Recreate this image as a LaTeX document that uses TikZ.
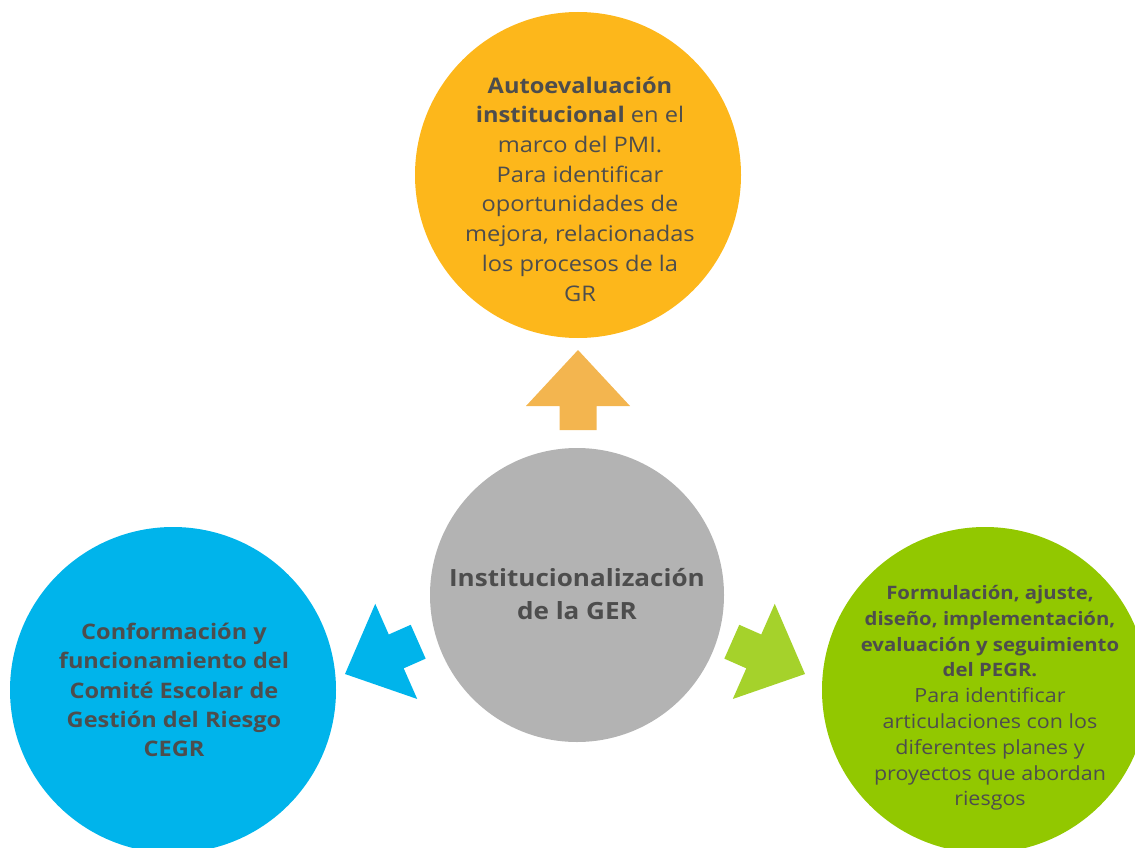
\documentclass[tikz,border=0pt]{standalone}
\usepackage{fontspec}
\setmainfont{Open Sans}[FakeStretch=1.1]
\definecolor{txtgray}{HTML}{4D4D4D}
\definecolor{gerorange}{HTML}{FDB71B}
\definecolor{arroworange}{HTML}{F3B54F}
\definecolor{gerblue}{HTML}{00B4EB}
\definecolor{gergray}{HTML}{B3B3B3}
\definecolor{gergreen}{HTML}{92C800}
\definecolor{arrowgreen}{HTML}{A5D22B}
\tikzset{
  bubble/.style={circle,inner sep=0pt,minimum size=#1},
  bubbletext/.style={text=txtgray,align=center,inner sep=0pt},
  pics/blockarrow/.style={code={
    \path[pic actions](0,0)--(-56,52)--(-56,18.5)--(-80,18.5)--(-80,-18.5)--(-56,-18.5)--(-56,-52)--cycle;
  }}
}
\begin{document}
\begin{tikzpicture}[x=1pt,y=-1pt]
\useasboundingbox (0,0) rectangle (1135,848);
\begin{scope}
\clip (0,0) rectangle (1135,848);
% circles
\node[bubble=326pt,fill=gerorange] (auto) at (578,175) {};
\node[bubble=294pt,fill=gergray] (inst) at (577,595) {};
\node[bubble=326pt,fill=gerblue] (cegr) at (173,690) {};
\node[bubble=326pt,fill=gergreen] (pegr) at (985,690) {};
\end{scope}
% arrows
\pic[fill=arroworange,rotate=90] at (578,350) {blockarrow};
\pic[fill=gerblue,rotate=203.8] at (345,674) {blockarrow};
\pic[fill=arrowgreen,rotate=-23.8] at (805,674) {blockarrow};
% texts
\node[bubbletext,font=\fontsize{21.5}{29.7}\selectfont] (autotxt) at (580,189)
  {\textbf{Autoevaluación}\\\textbf{institucional} en el\\marco del PMI.\\Para identificar\\oportunidades de\\mejora, relacionadas\\los procesos de la\\GR};
\node[bubbletext,font=\fontsize{23.7}{33}\selectfont\bfseries] (insttxt) at (577,594)
  {Institucionalización\\de la GER};
\node[bubbletext,font=\fontsize{21.4}{29.3}\selectfont\bfseries] (cegrtxt) at (174,690)
  {Conformación y\\funcionamiento del\\Comité Escolar de\\Gestión del Riesgo\\CEGR};
\node[bubbletext,font=\fontsize{18.5}{25.8}\selectfont] (pegrtxt) at (990,698)
  {\textbf{Formulación, ajuste,}\\\textbf{diseño, implementación,}\\\textbf{evaluación y seguimiento}\\\textbf{del PEGR.}\\\fontsize{19.5}{25.8}\selectfont Para identificar\\\fontsize{19.5}{25.8}\selectfont articulaciones con los\\\fontsize{19.5}{25.8}\selectfont diferentes planes y\\\fontsize{19.5}{25.8}\selectfont proyectos que abordan\\\fontsize{19.5}{25.8}\selectfont riesgos};
\end{tikzpicture}
\end{document}
